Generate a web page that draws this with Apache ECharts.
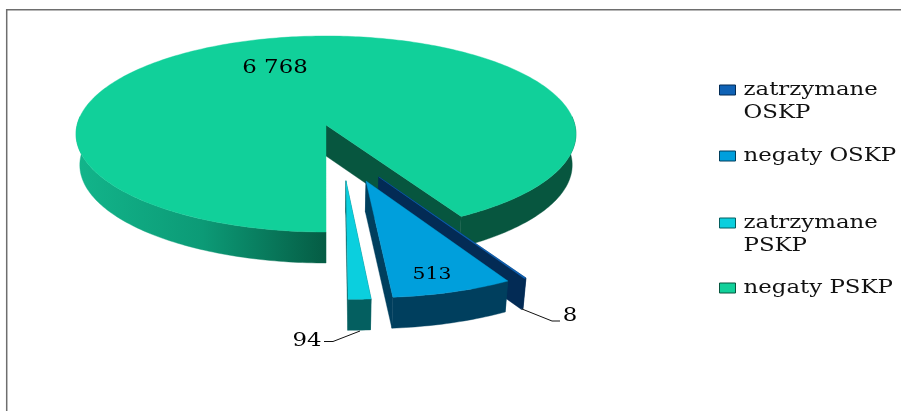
<!DOCTYPE html>
<html><head><meta charset="utf-8">
<style>html,body{margin:0;padding:0;background:#fff}#c{width:901px;height:411px}</style>
<script src="https://cdn.jsdelivr.net/npm/echarts@6/dist/echarts.min.js"></script>
</head><body><div id="c"></div>
<script>
// DATA (clockwise from the slice start angle)
const categories = ['zatrzymane OSKP', 'negaty OSKP', 'zatrzymane PSKP', 'negaty PSKP'];
const values = [8, 513, 94, 6768];
const legendLabels = [' \nzatrzymane\nOSKP', 'negaty OSKP', ' \nzatrzymane\nPSKP', 'negaty PSKP'];

// STYLE / LAYOUT
const FONT = '"DejaVu Serif"';
const topColors = ['#0F62B5', '#009FDC', '#0BCFDE', '#11D09A'];
const wallColors = ['#032B55', '#003F5E', '#045F60', '#07563F'];
const legendTops = [55.5, 144.5, 188.5, 276.5];
const explode = [[0.202, -0.509], [0.1526, -0.547], [0.076, -0.545], [0, 0]];
const radii = [1, 0.98, 0.995, 1];
const labelPos = [[570, 316], [432, 275], [307, 341], [275, 68]];
const labelSize = [18, 16, 18, 18];
const leaders = [[[522, 309], [552, 321], [560, 321]], null, [[360, 331], [333, 341.5], [324, 341.5]], null];
const startDeg = 150, AX = 326, AY = 125, a = 248.9, b = 97.2, k = 0.0918, DEPTH = 31, SHR = 0.985;
const STRETCH = 1.27; // the reference's lettering is horizontally stretched

const baseFillText = CanvasRenderingContext2D.prototype.fillText;
CanvasRenderingContext2D.prototype.fillText = function (t, x, y) {
  const inLegend = this.getTransform().e + x >= 700;
  this.save();
  this.translate(inLegend ? x + 3 : x, y);
  this.scale(STRETCH, 1);
  baseFillText.call(this, t, 0, 0);
  this.restore();
};

const total = values.reduce((s, v) => s + v, 0);
function proj(deg, r, off, low) {
  const t = deg * Math.PI / 180;
  const u = r * Math.sin(t) + off[0], v = r * Math.cos(t) + off[1];
  const w = 1 + k * v;
  const X = a * u / w, Y = -b * v / w;
  return low ? [AX + X * SHR, AY + Y + DEPTH] : [AX + X, AY + Y];
}
function arc(d0, d1, off, low, r) {
  const pts = [], n = Math.max(2, Math.ceil(Math.abs(d1 - d0)));
  for (let i = 0; i <= n; i++) pts.push(proj(d0 + (d1 - d0) * i / n, r, off, low));
  return pts;
}
function poly(points, fill) {
  return { type: 'polygon', shape: { points }, style: { fill, stroke: fill, lineWidth: 0.4 } };
}
function wall(d0, d1, off, fill, r) {
  return poly(arc(d0, d1, off, false, r).concat(arc(d0, d1, off, true, r).reverse()), fill);
}
function radial(deg, off, fill, r) {
  return poly([proj(0, 0, off, false), proj(deg, r, off, false), proj(deg, r, off, true), proj(0, 0, off, true)], fill);
}
function label(i) {
  const text = values[i] >= 1000 ? String(values[i]).replace(/\B(?=(\d{3})+$)/g, ' ') : String(values[i]);
  return { type: 'text', z2: 5, style: { text, x: labelPos[i][0], y: labelPos[i][1], align: 'center', verticalAlign: 'middle', fill: '#000', font: labelSize[i] + 'px ' + FONT } };
}
function renderSlice(i, val) {
  let d0 = startDeg;
  for (let j = 0; j < i; j++) d0 += values[j] / total * 360;
  const d1 = d0 + val / total * 360, off = explode[i], r = radii[i];
  const kids = [];
  if (i === 3) {
    kids.push(wall(85, d1 - 360, off, wallColors[3], r));
    kids.push(radial(d1, off, wallColors[3], r));
    kids.push(wall(d0, d0 + 95, off, {
      type: 'linear', global: true, x: 80, y: 0, x2: 326, y2: 0,
      colorStops: [{ offset: 0, color: '#12B48A' }, { offset: 0.5, color: '#0C9A76' }, { offset: 1, color: '#055C44' }]
    }, r));
  } else {
    kids.push(radial(d0, off, wallColors[i], r));
    kids.push(radial(d1, off, wallColors[i], r));
    kids.push(wall(d0, d1, off, wallColors[i], r));
  }
  kids.push(poly([proj(0, 0, off, false)].concat(arc(d0, d1, off, false, r)), topColors[i]));
  kids.push(label(i));
  if (leaders[i]) kids.push({ type: 'polyline', z2: 4, shape: { points: leaders[i] }, style: { fill: null, stroke: '#111', lineWidth: 1 } });
  return { type: 'group', children: kids };
}
// painter's order: big pie first, then the exploded slices back to front
const order = [3, 2, 0, 1];
const series = order.map(i => ({
  type: 'custom', name: categories[i], coordinateSystem: 'none', silent: true, clip: false,
  itemStyle: { color: topColors[i] },
  data: [[values[i]]],
  renderItem: (p, api) => renderSlice(i, api.value(0))
}));
const legend = categories.map((c, i) => ({
  data: [c], left: 719, top: legendTops[i], orient: 'vertical', padding: 0, itemWidth: 16, itemHeight: 10, itemGap: 0, selectedMode: false,
  icon: 'rect', itemStyle: { borderColor: wallColors[i], borderWidth: 1 },
  formatter: () => legendLabels[i],
  textStyle: { fontFamily: FONT, fontSize: 18, lineHeight: 23, color: '#111' }
}));
const chart = echarts.init(document.getElementById('c'), null, { renderer: 'canvas' });
chart.setOption({
  animation: false, backgroundColor: '#fff',
  legend, series,
  graphic: [{ type: 'polyline', silent: true, z: -1, shape: { points: [[6.7, 411], [6.7, 9.7], [901, 9.7]] }, style: { fill: null, stroke: '#6e6e6e', lineWidth: 1.5 } }]
});
</script></body></html>
